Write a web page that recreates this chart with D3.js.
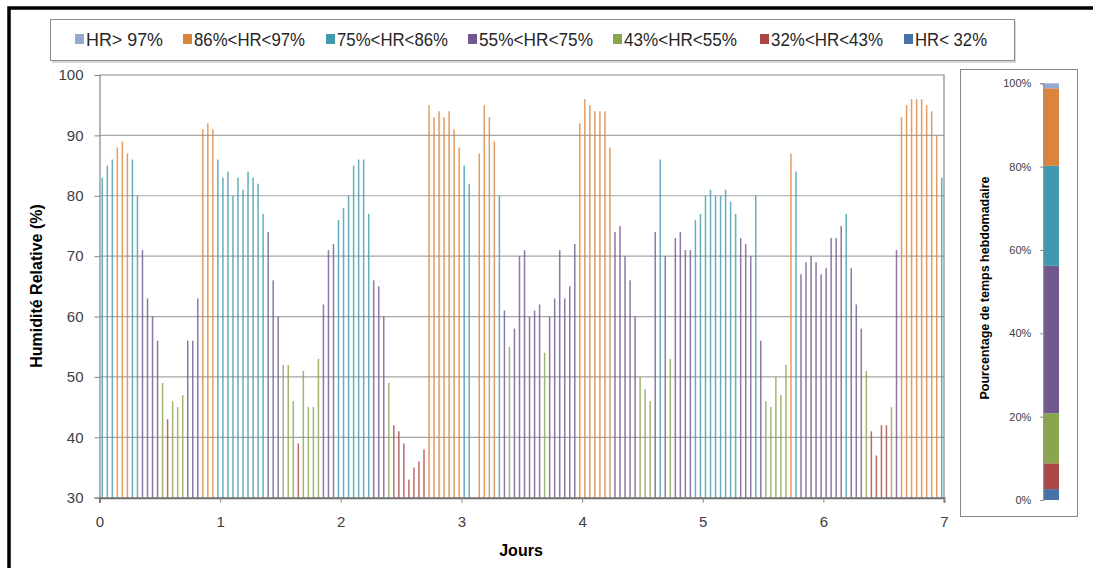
<!DOCTYPE html>
<html>
<head>
<meta charset="utf-8">
<script src="https://cdn.jsdelivr.net/npm/d3@7"></script>
<style>
  body { margin: 0; background: #fff; }
  text { font-family: "Liberation Sans", Arial, sans-serif; }
</style>
</head>
<body>
<div id="chart"></div>
<script>
// Humidité relative horaire sur une semaine + répartition hebdomadaire

// classes d'humidité (légende), seuils bas stricts, couleurs
const classLabels = ['HR> 97%', '86%<HR<97%', '75%<HR<86%', '55%<HR<75%', '43%<HR<55%', '32%<HR<43%', 'HR< 32%'];
const classLow = [97, 86, 75, 55, 43, 32, -Infinity];
const classColors = ['#93A9CF', '#DB843D', '#4198AF', '#71588F', '#89A54E', '#AA4643', '#4572A7'];

// part du temps hebdomadaire (%) par classe, même ordre que la légende
const weeklyShare = [1.2, 18.6, 24.0, 35.4, 12.0, 6.2, 2.6];

// mesures horaires (168 heures, null = mesure manquante)
const firstHour = 0.55;
const hourlyHR = [
  83, 85, 86, 88, 89, 87, 86, 80, 71, 63, 60, 56, 49, 43, 46, 45, 47, 56, 56, 63, 91, 92, 91, 86, 83,
  84, 80, 83, 81, 84, 83, 82, 77, 74, 66, 60, 52, 52, 46, 39, 51, 45, 45, 53, 62, 71, 72, 76, 78,
  80, 85, 86, 86, 77, 66, 65, 60, 49, 42, 41, 39, 33, 35, 36, 38, 95, 93, 94, 93, 94, 91, 88, 85, 82,
  null,
  87, 95, 93, 89, 80, 61, 55, 58, 70, 71, 60, 61, 62, 54, 60, 63, 71, 63, 65, 72,
  92, 96, 95, 94, 94, 94, 88, 74, 75, 70, 66, 60, 50, 48, 46, 74, 86, 70, 53, 73,
  74, 71, 71, 76, 77, 80, 81, 80, 80, 81, 79, 77, 73, 72, 70, 80, 56, 46, 45, 50,
  47, 52, 87, 84, 67, 69, 70, 69, 67, 68, 73, 73, 75, 77, 68, 62, 58, 51, 41, 37,
  42, 42, 45, 71, 93, 95, 96, 96, 96, 95, 94, 90, 83
];

const yTicks = [30, 40, 50, 60, 70, 80, 90, 100];
const xTicks = [0, 1, 2, 3, 4, 5, 6, 7];
const shareTicks = [0, 20, 40, 60, 80, 100];

const W = 1093, H = 568;
const svg = d3.select('#chart').append('svg')
    .attr('width', W)
    .attr('height', H);

// cadre noir extérieur
svg.append('path')
    .attr('d', `M9,${H} L9,8 L${W},8`)
    .attr('fill', 'none')
    .attr('stroke', '#000')
    .attr('stroke-width', 3.5);

// ---- legend ----
const legend = svg.append('g');
legend.append('rect')
    .attr('x', 52).attr('y', 21).attr('width', 964).attr('height', 42)
    .attr('fill', '#d9d9d9');
legend.append('rect')
    .attr('x', 50.5).attr('y', 19.5).attr('width', 964).attr('height', 41)
    .attr('fill', '#fff').attr('stroke', '#8c8c8c');

const legendX = [75, 183, 326, 468, 613, 760, 904];
const legendW = [77, 111, 111, 114, 113, 112, 72];
classLabels.forEach((lab, i) => {
    legend.append('rect')
        .attr('x', legendX[i]).attr('y', 34)
        .attr('width', 9).attr('height', 10)
        .attr('fill', classColors[i]);
    legend.append('text')
        .attr('x', legendX[i] + 11).attr('y', 46)
        .attr('font-size', 18)
        .attr('fill', '#262626')
        .attr('textLength', legendW[i])
        .attr('lengthAdjust', 'spacingAndGlyphs')
        .text(lab);
});

// ---- main chart ----
const x = d3.scaleLinear().domain([0, 7]).range([99.5, 944]);
const y = d3.scaleLinear().domain([30, 100]).range([497.7, 75]);

const main = svg.append('g');

// grille
main.selectAll('.grid')
    .data(yTicks.filter(v => v > 30 && v < 100))
    .enter().append('line')
    .attr('x1', x(0)).attr('x2', x(7))
    .attr('y1', d => y(d)).attr('y2', d => y(d))
    .attr('stroke', '#a6a6a6')
    .attr('stroke-width', 1.2);

// bordure du tracé (haut + droite)
main.append('path')
    .attr('d', `M${x(0)},${y(100)} L${x(7)},${y(100)} L${x(7)},${y(30)}`)
    .attr('fill', 'none')
    .attr('stroke', '#8a8a8a')
    .attr('stroke-width', 1.2);

function classOf(v) {
    return classLow.findIndex(t => v > t);
}

const bars = hourlyHR
    .map((v, i) => ({ hour: i + firstHour, value: v }))
    .filter(d => d.value !== null);

main.selectAll('.bar')
    .data(bars)
    .enter().append('rect')
    .attr('class', 'bar')
    .attr('x', d => x(d.hour / 24) - 0.75)
    .attr('width', 1.5)
    .attr('y', d => y(d.value))
    .attr('height', d => y(30) - y(d.value))
    .attr('fill', d => classColors[classOf(d.value)])
    .attr('fill-opacity', 0.8);

// axe Y
const yAxis = main.append('g').attr('transform', `translate(${x(0)},0)`)
    .call(d3.axisLeft(y).tickValues(yTicks).tickSize(5).tickPadding(11));
yAxis.select('.domain').attr('stroke', '#868686').attr('stroke-width', 1.2);
yAxis.selectAll('.tick line').attr('stroke', '#868686');
yAxis.selectAll('.tick text')
    .attr('font-size', 15)
    .attr('fill', '#404040')
    .attr('font-family', '"Liberation Sans", Arial, sans-serif');

// axe X
const xAxis = main.append('g').attr('transform', `translate(0,${y(30)})`)
    .call(d3.axisBottom(x).tickValues(xTicks).tickFormat(d3.format('d')).tickSize(5).tickPadding(14));
xAxis.select('.domain').attr('stroke', '#6e6e6e').attr('stroke-width', 2);
xAxis.selectAll('.tick line').attr('stroke', '#868686');
xAxis.selectAll('.tick text')
    .attr('font-size', 15)
    .attr('fill', '#404040')
    .attr('font-family', '"Liberation Sans", Arial, sans-serif');

// titres d'axes
svg.append('text')
    .attr('transform', 'translate(42,286) rotate(-90)')
    .attr('text-anchor', 'middle')
    .attr('font-size', 16)
    .attr('font-weight', 'bold')
    .attr('fill', '#000')
    .text('Humidité Relative (%)');

svg.append('text')
    .attr('x', 521).attr('y', 556)
    .attr('text-anchor', 'middle')
    .attr('font-size', 16)
    .attr('font-weight', 'bold')
    .attr('fill', '#000')
    .text('Jours');

// ---- panneau de droite : répartition hebdomadaire ----
const side = svg.append('g');
side.append('rect')
    .attr('x', 960.5).attr('y', 69.5).attr('width', 117).attr('height', 447)
    .attr('fill', '#fff').attr('stroke', '#868686');

const ys = d3.scaleLinear().domain([0, 100]).range([500, 83.3]);

// empilement du bas (HR<32) vers le haut (HR>97)
const stackOrder = d3.range(classLabels.length).reverse();
let acc = 0;
const segs = stackOrder.map(i => {
    const s = { cls: i, y0: acc, y1: acc + weeklyShare[i] };
    acc += weeklyShare[i];
    return s;
});

side.selectAll('.seg')
    .data(segs)
    .enter().append('rect')
    .attr('x', 1043.5)
    .attr('width', 15.5)
    .attr('y', d => ys(d.y1))
    .attr('height', d => ys(d.y0) - ys(d.y1))
    .attr('fill', d => classColors[d.cls]);

const sAxis = side.append('g').attr('transform', 'translate(1043.3,0)')
    .call(d3.axisLeft(ys).tickValues(shareTicks).tickFormat(d => d + '%').tickSize(3).tickPadding(9));
sAxis.select('.domain').attr('stroke', '#868686');
sAxis.selectAll('.tick line').attr('stroke', '#868686');
sAxis.selectAll('.tick text')
    .attr('font-size', 11)
    .attr('fill', '#404040')
    .attr('font-family', '"Liberation Sans", Arial, sans-serif');

side.append('text')
    .attr('transform', 'translate(989,288) rotate(-90)')
    .attr('text-anchor', 'middle')
    .attr('font-size', 12.5)
    .attr('font-weight', 'bold')
    .attr('fill', '#000')
    .text('Pourcentage de temps hebdomadaire');
</script>
</body>
</html>
